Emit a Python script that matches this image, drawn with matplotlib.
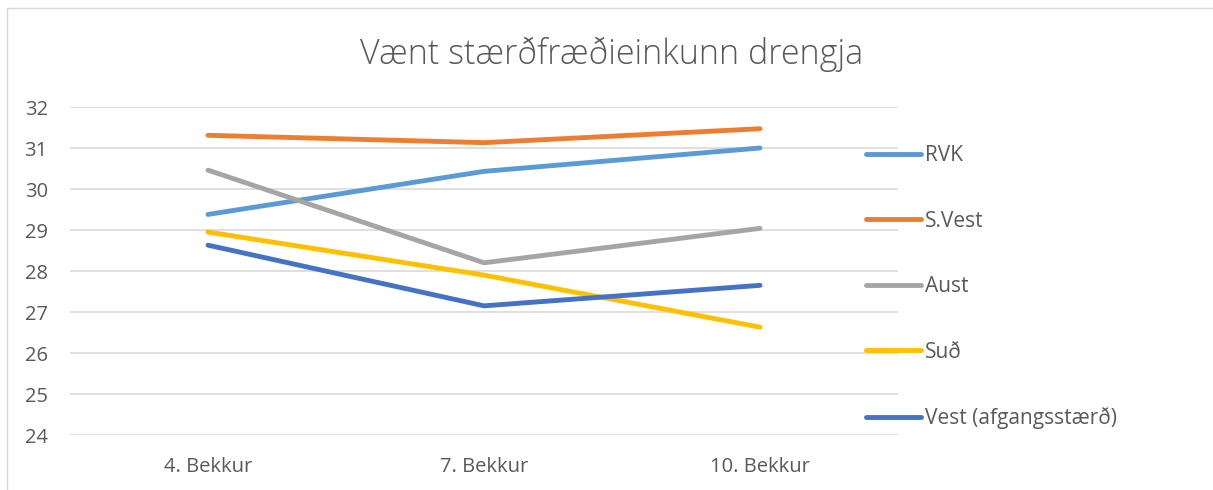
import matplotlib
matplotlib.use("Agg")
import matplotlib.pyplot as plt
from matplotlib.patches import Rectangle

# data
categories = ["4. Bekkur", "7. Bekkur", "10. Bekkur"]
series_names = ["RVK", "S.Vest", "Aust", "Suð", "Vest (afgangsstærð)"]
rvk = [29.38, 30.43, 31.00]
svest = [31.31, 31.13, 31.47]
aust = [30.46, 28.20, 29.04]
sud = [28.95, 27.90, 26.63]
vest = [28.63, 27.15, 27.65]
colors = ["#5B9BD5", "#ED7D31", "#A5A5A5", "#FFC000", "#4472C4"]

W, H = 1213, 490
fig = plt.figure(figsize=(W / 100, H / 100), dpi=100)
plt.rcParams['font.family'] = ['Open Sans', 'DejaVu Sans']

# outer chart border
fig.patches.append(Rectangle((7 / W, -0.1), 1.2, 1 - 8 / H + 0.1,
                             transform=fig.transFigure, fill=False,
                             edgecolor="#D9D9D9", linewidth=1))

left, right = 70, 898
top, bottom = 107, 435
ax = fig.add_axes([left / W, 1 - bottom / H, (right - left) / W, (bottom - top) / H])

x = range(len(categories))
for vals, name, c in zip([rvk, svest, aust, sud, vest], series_names, colors):
    ax.plot(x, vals, color=c, linewidth=3.5, solid_capstyle="round", label=name)

ax.set_xlim(-0.5, 2.5)
ax.set_ylim(24, 32)
ax.set_yticks(range(24, 33))
ax.set_xticks(list(x))
ax.set_xticklabels(categories)
ax.grid(axis="y", color="#D9D9D9", linewidth=1.2)
ax.set_axisbelow(True)
for s in ax.spines.values():
    s.set_visible(False)
ax.tick_params(length=0, labelsize=14.5, labelcolor="#595959")
ax.tick_params(axis="y", pad=16)
ax.tick_params(axis="x", pad=16)

fig.text(612 / W, 1 - 54 / H, "Vænt stærðfræðieinkunn drengja", ha="center", va="center",
         fontsize=24.5, color="#595959", fontweight="light")

leg = fig.legend(loc="upper left", bbox_to_anchor=(866 / W, 1 - 145 / H), frameon=False,
                 fontsize=15, labelspacing=2.14, handlelength=2.65, handletextpad=0.2,
                 borderpad=0, borderaxespad=0)
for t in leg.get_texts():
    t.set_color("#595959")

fig.savefig("out.png", dpi=100)
